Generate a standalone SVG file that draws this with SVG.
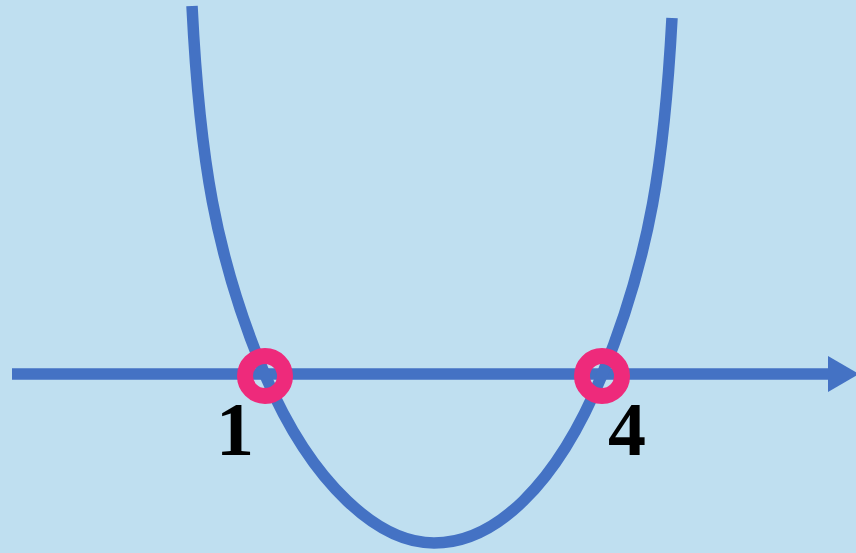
<svg xmlns="http://www.w3.org/2000/svg" width="856" height="553" viewBox="0 0 856 553">
  <style>
    .curve { fill: none; stroke: #4472C4; stroke-width: 11.5; }
    .root { fill: none; stroke: #EE2A7B; stroke-width: 16; }
    .label { font-family: "Liberation Serif", "DejaVu Serif", serif; font-weight: bold; font-size: 76px; fill: #000000; text-anchor: middle; }
  </style>
  <rect x="0" y="0" width="856" height="553" fill="#BFDFF0"/>
  <g id="connectors">
    <g id="axis">
      <line class="curve" x1="12" y1="374" x2="832" y2="374"/>
      <polygon points="828,356 859,374 828,392" fill="#4472C4"/>
    </g>
    <path id="graph" class="curve" d="M192,6 C199.5,156 214.6,255 265,375 C313,487 380,543 434,543 C494,543 556,487 602,375 C651,255 664.5,158 672,18"/>
  </g>
  <g id="root1">
    <circle class="root" cx="265" cy="376" r="20"/>
  </g>
  <g id="root4">
    <circle class="root" cx="602" cy="376" r="20"/>
  </g>
  <g id="label1">
    <text class="label" x="235" y="455">1</text>
  </g>
  <g id="label4">
    <text class="label" x="627" y="455">4</text>
  </g>
</svg>
